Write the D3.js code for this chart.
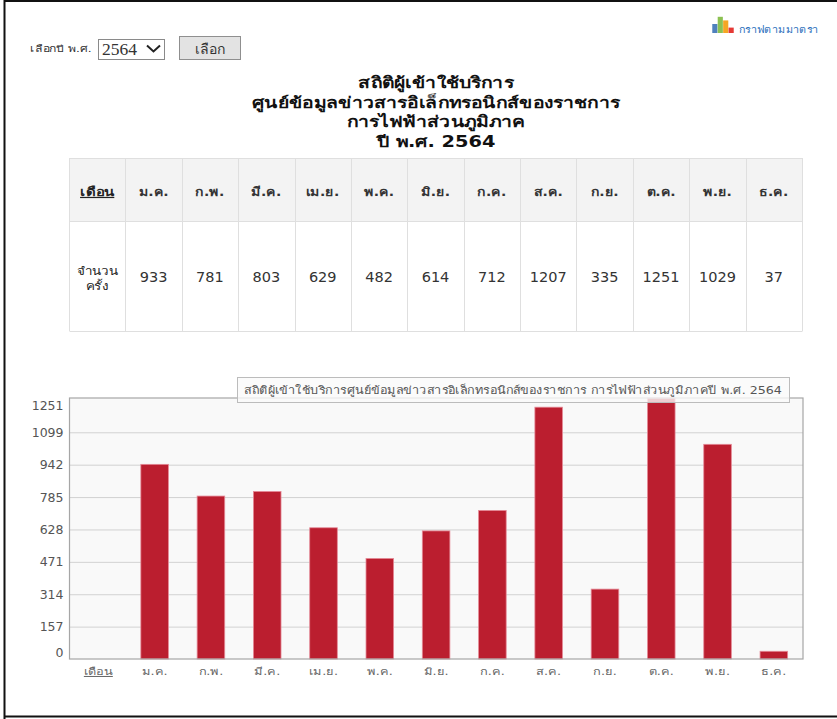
<!DOCTYPE html>
<html>
<head>
<meta charset="utf-8">
<script src="https://cdn.jsdelivr.net/npm/d3@7/dist/d3.min.js"></script>
<style>
html, body { margin: 0; padding: 0; background: #fff; }
svg { display: block; }
text { font-family: "DejaVu Sans", Tahoma, sans-serif; }
</style>
</head>
<body>
<div id="canvas"></div>
<script>
var months = ['ม.ค.', 'ก.พ.', 'มี.ค.', 'เม.ย.', 'พ.ค.', 'มิ.ย.', 'ก.ค.', 'ส.ค.', 'ก.ย.', 'ต.ค.', 'พ.ย.', 'ธ.ค.'];
var counts = [933, 781, 803, 629, 482, 614, 712, 1207, 335, 1251, 1029, 37];
var gridTicks = [157, 314, 471, 628, 785, 942, 1099];
var titleLines = ['สถิติผู้เข้าใช้บริการ', 'ศูนย์ข้อมูลข่าวสารอิเล็กทรอนิกส์ของราชการ', 'การไฟฟ้าส่วนภูมิภาค', 'ปี พ.ศ. 2564'];
var chartTitle = 'สถิติผู้เข้าใช้บริการศูนย์ข้อมูลข่าวสารอิเล็กทรอนิกส์ของราชการ การไฟฟ้าส่วนภูมิภาคปี พ.ศ. 2564';
var monthHead = 'เดือน';
var iconBars = [5, 9, 7, 3];
var iconColors = ['#4f81bd', '#8cc152', '#f5a623', '#e53935'];

var svg = d3.select('#canvas').append('svg')
	.attr('width', 837)
	.attr('height', 719);

// no Thai font here is as wide as the original one, so stretch the text
var label = function (parent, px, py, k, str) {
	return parent.append('text')
		.attr('transform', 'translate(' + px + ',' + py + ') scale(' + k + ',1)')
		.text(str);
};

// page frame
svg.append('rect').attr('width', 837).attr('height', 719).attr('fill', '#fff');
svg.append('path')
	.attr('d', 'M4.5,719V1H837M4.5,716.5H837')
	.attr('fill', 'none').attr('stroke', '#111').attr('stroke-width', 2);

// year picker
label(svg, 30, 52, 1.35, 'เลือกปี พ.ศ.').attr('font-size', 9).attr('fill', '#333');
svg.append('rect').attr('x', 98.5).attr('y', 39.5).attr('width', 66).attr('height', 20)
	.attr('fill', '#fff').attr('stroke', '#8a8a8a');
svg.append('text').attr('x', 102).attr('y', 55).attr('font-size', 17.5)
	.style('font-family', '"Liberation Serif", serif').attr('fill', '#333').text('2564');
svg.append('path').attr('d', 'M147,45.5L153.5,51.5L160,45.5')
	.attr('fill', 'none').attr('stroke', '#222').attr('stroke-width', 2);
svg.append('rect').attr('x', 179.5).attr('y', 36.5).attr('width', 61).attr('height', 23)
	.attr('fill', '#e3e3e3').attr('stroke', '#8f8f8f');
svg.append('text').attr('x', 210).attr('y', 54).attr('text-anchor', 'middle').attr('font-size', 14)
	.attr('fill', '#333').text('เลือก');

// little chart icon top right
var iconX = d3.scaleBand().domain(d3.range(iconBars.length)).range([712, 734]).padding(0.05);
svg.append('g').selectAll('rect').data(iconBars).enter().append('rect')
	.attr('x', function (d, i) { return iconX(i); })
	.attr('y', function (d) { return 33 - d * 1.8; })
	.attr('width', iconX.bandwidth())
	.attr('height', function (d) { return d * 1.8; })
	.attr('fill', function (d, i) { return iconColors[i]; });
label(svg, 739, 33, 1.13, 'กราฟตามมาตรา').attr('font-size', 9.5).attr('fill', '#2a6ebb');

// heading
var headG = svg.append('g');
titleLines.forEach(function (line, i) {
	label(headG, 436, 88 + i * 19.5, 1.29, line)
		.attr('text-anchor', 'middle')
		.attr('font-size', 15)
		.attr('font-weight', 'bold')
		.attr('fill', '#111');
});

// table
var colX = d3.scaleBand().domain(d3.range(13)).range([69, 802]);
var colMid = function (i) { return colX(i) + colX.bandwidth() / 2; };
var table = svg.append('g');
table.append('rect').attr('x', 69.5).attr('y', 158.5).attr('width', 733).attr('height', 63).attr('fill', '#f3f3f3');
table.append('g').selectAll('line').data(d3.range(14)).enter().append('line')
	.attr('x1', function (d) { return Math.round(69 + d * colX.step()) + 0.5; })
	.attr('x2', function (d) { return Math.round(69 + d * colX.step()) + 0.5; })
	.attr('y1', 158).attr('y2', 331).attr('stroke', '#dfdfdf');
table.append('g').selectAll('line').data([158.5, 221.5, 331.5]).enter().append('line')
	.attr('x1', 69.5).attr('x2', 802.5)
	.attr('y1', function (d) { return d; }).attr('y2', function (d) { return d; })
	.attr('stroke', '#dfdfdf');
label(table, colMid(0), 196, 1.25, monthHead)
	.attr('text-anchor', 'middle').attr('font-size', 12).attr('font-weight', 'bold')
	.attr('text-decoration', 'underline').attr('fill', '#222');
months.forEach(function (m, i) {
	label(table, colMid(i + 1), 196, 1.17, m)
		.attr('text-anchor', 'middle').attr('font-size', 12).attr('font-weight', 'bold').attr('fill', '#333');
});
label(table, colMid(0), 275, 1.22, 'จำนวน')
	.attr('text-anchor', 'middle').attr('font-size', 11).attr('fill', '#222');
label(table, colMid(0), 290, 1.22, 'ครั้ง')
	.attr('text-anchor', 'middle').attr('font-size', 11).attr('fill', '#222');
table.append('g').selectAll('text').data(counts).enter().append('text')
	.attr('x', function (d, i) { return colMid(i + 1); })
	.attr('y', 282)
	.attr('text-anchor', 'middle').attr('font-size', 14.5).attr('fill', '#333')
	.text(function (d) { return d; });

// bar chart
var plot = { left: 69.5, right: 803, top: 398, bottom: 659 };
var x = d3.scaleBand().domain([monthHead].concat(months)).range([70.2, 802]).paddingInner(0.51).paddingOuter(0.255);
var y = d3.scaleLinear().domain([0, 1251]).range([plot.bottom, plot.top]);
// the picture's grid sits a little lower than the bars' own scale
var yGrid = d3.scaleLinear().domain([0, 1099]).range([plot.bottom, 432.3]);

svg.append('rect').attr('x', plot.left).attr('y', plot.top)
	.attr('width', plot.right - plot.left).attr('height', plot.bottom - plot.top)
	.attr('fill', '#f9f9f9');

var gridG = svg.append('g').attr('transform', 'translate(' + plot.left + ',0)')
	.call(d3.axisLeft(yGrid).tickValues(gridTicks).tickSize(-(plot.right - plot.left)).tickFormat(''));
gridG.select('.domain').remove();
gridG.selectAll('line').attr('stroke', '#d2d2d2');

svg.append('g').selectAll('rect').data(counts).enter().append('rect')
	.attr('x', function (d, i) { return x(months[i]); })
	.attr('y', function (d) { return y(d); })
	.attr('width', x.bandwidth())
	.attr('height', function (d) { return plot.bottom - y(d); })
	.attr('fill', '#bb1e2f')
	.attr('stroke', '#e58a97')
	.attr('stroke-width', 0.8);

svg.append('rect').attr('x', plot.left).attr('y', plot.top)
	.attr('width', plot.right - plot.left).attr('height', plot.bottom - plot.top)
	.attr('fill', 'none').attr('stroke', '#a6a6a6').attr('stroke-width', 1.2);

// y labels, the two end ones are pulled inside the plot
var yLabels = svg.append('g').attr('transform', 'translate(' + (plot.left - 6) + ',0)')
	.call(d3.axisLeft(yGrid).tickValues([0].concat(gridTicks)).tickSize(0).tickPadding(0).tickFormat(d3.format('d')));
yLabels.select('.domain').remove();
yLabels.selectAll('text')
	.attr('font-size', 12.5).attr('fill', '#555')
	.style('font-family', '"DejaVu Sans", sans-serif')
	.attr('dy', function (d) { return d === 0 ? '-0.17em' : '0.32em'; });
svg.append('text').attr('x', plot.left - 6).attr('y', 410).attr('text-anchor', 'end')
	.attr('font-size', 12.5).attr('fill', '#555').text(d3.max(counts));

// x labels
var xAxis = svg.append('g').attr('transform', 'translate(0,' + plot.bottom + ')')
	.call(d3.axisBottom(x).tickSize(0).tickPadding(9));
xAxis.select('.domain').remove();
xAxis.selectAll('text')
	.attr('font-size', 10).attr('fill', '#666')
	.style('font-family', '"DejaVu Sans", sans-serif')
	.attr('transform', 'scale(1.28,1)')
	.attr('text-decoration', function (d) { return d === monthHead ? 'underline' : null; });

// chart title box, see-through so the tallest bar shows under it
svg.append('rect').attr('x', 237.5).attr('y', 377.5).attr('width', 552).attr('height', 25)
	.attr('fill', '#fafafa').attr('fill-opacity', 0.8).attr('stroke', '#bcbcbc');
label(svg, 513, 394, 1.15, chartTitle)
	.attr('text-anchor', 'middle').attr('font-size', 11).attr('fill', '#555');
</script>
</body>
</html>
